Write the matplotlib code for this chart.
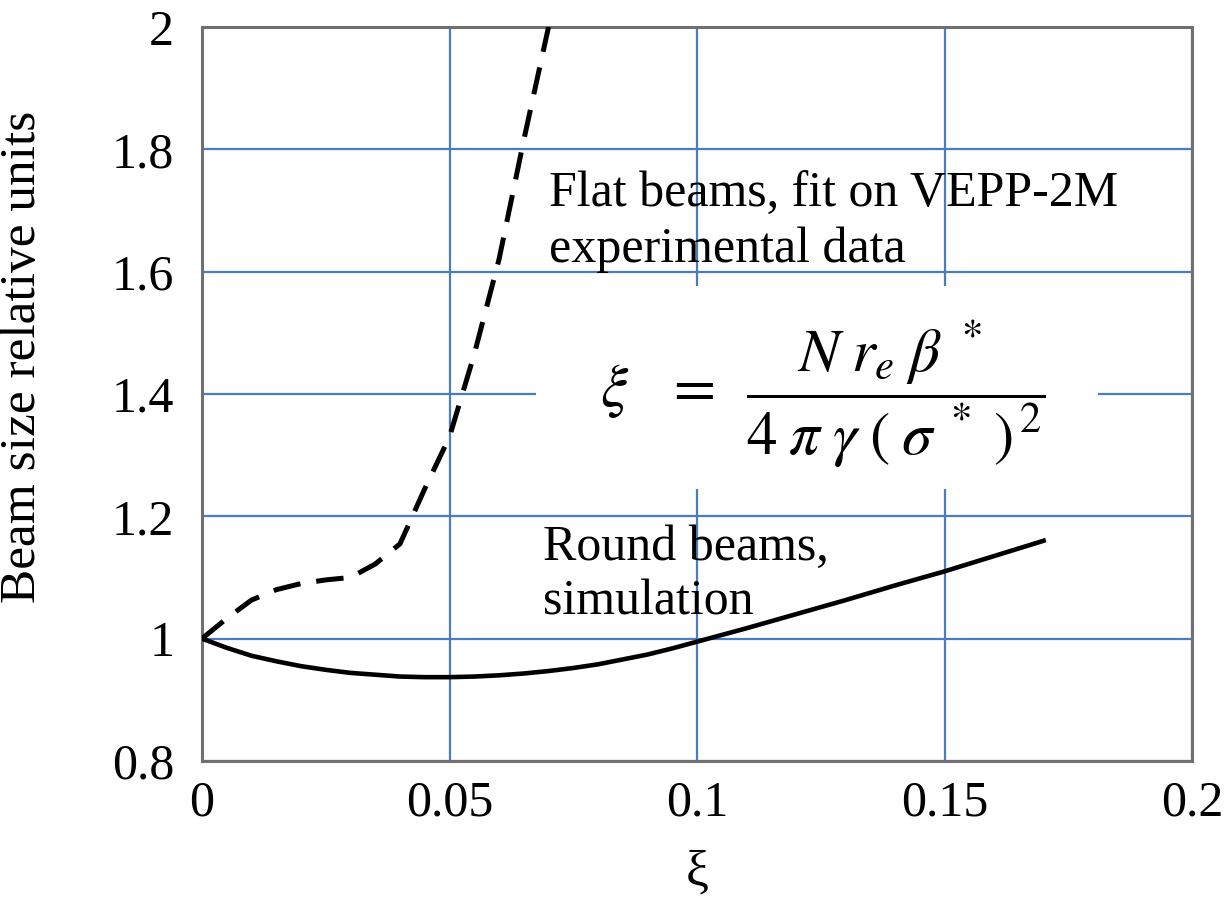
import matplotlib
matplotlib.use("Agg")
from matplotlib import pyplot as plt
from matplotlib.patches import Rectangle

plt.rcParams['font.family'] = ['Liberation Serif', 'DejaVu Serif']
plt.rcParams['mathtext.fontset'] = 'stix'

# flat beams (dashed), fit on VEPP-2M data
xi_flat = [0, 0.005, 0.01, 0.015, 0.02, 0.025, 0.03, 0.035, 0.04, 0.0425,
           0.045, 0.05, 0.055, 0.06, 0.065, 0.07]
size_flat = [1.0, 1.033, 1.063, 1.08, 1.09, 1.096, 1.10, 1.122, 1.155, 1.2,
             1.245, 1.33, 1.465, 1.62, 1.815, 2.0]

# round beams (solid), simulation
xi_round = [0, 0.005, 0.01, 0.015, 0.02, 0.025, 0.03, 0.035, 0.04, 0.045,
            0.05, 0.055, 0.06, 0.065, 0.07, 0.075, 0.08, 0.085, 0.09, 0.095,
            0.10, 0.11, 0.12, 0.13, 0.14, 0.15, 0.16, 0.17]
size_round = [1.0, 0.985, 0.972, 0.963, 0.955, 0.949, 0.944, 0.941, 0.938, 0.937,
              0.937, 0.938, 0.94, 0.943, 0.947, 0.952, 0.958, 0.966, 0.974, 0.984,
              0.995, 1.017, 1.04, 1.063, 1.087, 1.11, 1.135, 1.16]

xticks = [0, 0.05, 0.1, 0.15, 0.2]
xtick_labels = ['0', '0.05', '0.1', '0.15', '0.2']
yticks = [0.8, 1, 1.2, 1.4, 1.6, 1.8, 2]
ytick_labels = ['0.8', '1', '1.2', '1.4', '1.6', '1.8', '2']

fig = plt.figure(figsize=(12.27, 8.98), dpi=100)
ax = fig.add_axes([0.1646, 0.1526, 0.807, 0.8174])

ax.set_xlim(0, 0.2)
ax.set_ylim(0.8, 2)
ax.set_xticks(xticks)
ax.set_xticklabels(xtick_labels)
ax.set_yticks(yticks)
ax.set_yticklabels(ytick_labels)
ax.tick_params(length=0, labelsize=36, pad=14)
ax.tick_params(axis='y', pad=20)
ax.grid(True, color='#4a7cc4', lw=1.6, zorder=0)
ax.set_axisbelow(True)
for s in ax.spines.values():
    s.set_color('#707070')
    s.set_linewidth(2.2)

# white box behind the formula (hides the grid)
ax.add_patch(Rectangle((0.0675, 1.244), 0.1135, 0.332, facecolor='white',
                       edgecolor='none', zorder=1))

ax.plot(xi_flat, size_flat, color='black', lw=3.6, ls=(0, (5.5, 3.2)), zorder=3)
ax.plot(xi_round, size_round, color='black', lw=3.3, zorder=3)

ax.text(0.0701, 1.726, 'Flat beams, fit on VEPP-2M', fontsize=36, va='center', zorder=4)
ax.text(0.0701, 1.636, 'experimental data', fontsize=36, va='center', zorder=4)
ax.text(0.0689, 1.149, 'Round beams,', fontsize=36, va='center', zorder=4)
ax.text(0.0689, 1.06, 'simulation', fontsize=36, va='center', zorder=4)

ax.text(0.1255, 1.40,
        r'$\xi\ \ \,=\ \,\dfrac{N\;r_e\;\beta^{\;*}}{4\;\pi\;\gamma\;(\;\sigma^{\;*}\;)^{\,2}}$',
        fontsize=44, ha='center', va='center', zorder=4)

ax.set_ylabel('Beam size relative units', fontsize=37)
ax.yaxis.set_label_coords(-0.158, 0.55)
ax.set_xlabel('ξ', fontsize=37)
ax.xaxis.set_label_coords(0.5, -0.121)

fig.savefig('out.png', dpi=100)
